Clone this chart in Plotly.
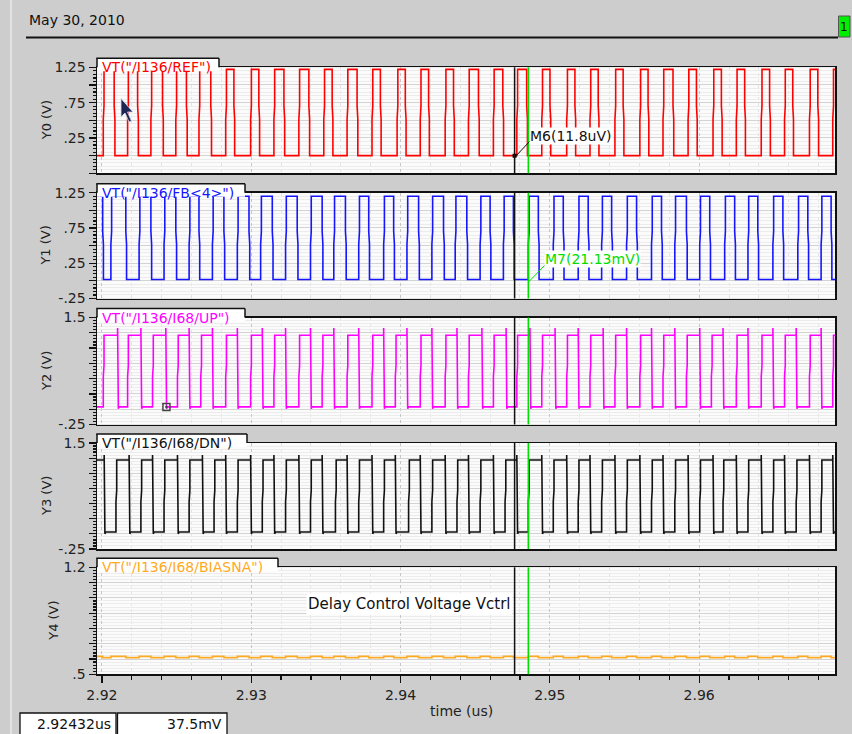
import plotly.graph_objects as go

W, H = 852, 734

# ---------------- data ----------------
X_RANGE = [2.91967, 2.96910]          # time (us)
X_TICK0, X_DTICK, X_MINOR = 2.92, 0.01, 0.002

signal_names = ['VT("/I136/REF")', 'VT("/I136/FB<4>")', 'VT("/I136/I68/UP")',
                'VT("/I136/I68/DN")', 'VT("/I136/I68/BIASNA")']
axis_titles = ["Y0 (V)", "Y1 (V)", "Y2 (V)", "Y3 (V)", "Y4 (V)"]
colors = ["#ff0000", "#1515ff", "#ff00ff", "#111111", "#ffaa22"]

y_ranges = [[-0.25, 1.25], [-0.25, 1.25], [-0.25, 1.5], [-0.25, 1.5], [0.5, 1.2]]
y_tickvals = [
    [-0.25, 0, 0.25, 0.5, 0.75, 1.0, 1.25],
    [-0.25, 0, 0.25, 0.5, 0.75, 1.0, 1.25],
    [-0.25, 0, 0.25, 0.5, 0.75, 1.0, 1.25, 1.5],
    [-0.25, 0, 0.25, 0.5, 0.75, 1.0, 1.25, 1.5],
    [0.5, 0.6, 0.7, 0.8, 0.9, 1.0, 1.1, 1.2],
]
y_ticktext = [
    ["", "", ".25", "", ".75", "", "1.25"],
    ["-.25", "", ".25", "", ".75", "", "1.25"],
    ["-.25", "", "", "", "", "", "", "1.5"],
    ["-.25", "", "", "", "", "", "", "1.5"],
    [".5", "", "", "", "", "", "", "1.2"],
]
y_minor = [0.05, 0.05, 0.05, 0.05, 0.02]

# REF clock edges (us)
ref_rise = [2.92009, 2.92172, 2.92328, 2.92495, 2.92650, 2.92829, 2.92996, 2.93152, 2.93319, 2.93486,
            2.93642, 2.93809, 2.93977, 2.94132, 2.94299, 2.94455, 2.94622, 2.94779, 2.94946, 2.95113,
            2.95269, 2.95436, 2.95603, 2.95758, 2.95926, 2.96093, 2.96249, 2.96416, 2.96572, 2.96739, 2.96895]
ref_fall = [2.92082, 2.92239, 2.92406, 2.92566, 2.92729, 2.92884, 2.93051, 2.93219, 2.93386, 2.93542,
            2.93709, 2.93865, 2.94032, 2.94188, 2.94355, 2.94522, 2.94685, 2.94845, 2.95001, 2.95168,
            2.95324, 2.95491, 2.95658, 2.95825, 2.95982, 2.96149, 2.96305, 2.96472, 2.96627, 2.96795]
ref_levels = (0.0, 1.22)

# FB<4> edges (us)
fb_fall = [2.92005, 2.92160, 2.92328, 2.92495, 2.92650, 2.92817, 2.92985, 2.93141, 2.93308, 2.93475,
           2.93631, 2.93787, 2.93954, 2.94121, 2.94288, 2.94444, 2.94600, 2.94756, 2.94923, 2.95090,
           2.95257, 2.95414, 2.95581, 2.95748, 2.95915, 2.96071, 2.96238, 2.96393, 2.96561, 2.96728, 2.96884]
fb_rise = [2.92060, 2.92249, 2.92416, 2.92584, 2.92740, 2.92907, 2.93063, 2.93230, 2.93397, 2.93553,
           2.93720, 2.93887, 2.94043, 2.94210, 2.94366, 2.94533, 2.94689, 2.94856, 2.95023, 2.95190,
           2.95347, 2.95514, 2.95681, 2.95837, 2.96004, 2.96171, 2.96327, 2.96494, 2.96661, 2.96817]
fb_levels = (0.02, 1.20)

# UP edges (us)
up_rise = [2.92009, 2.92172, 2.92339, 2.92506, 2.92662, 2.92829, 2.92996, 2.93152, 2.93319, 2.93475,
           2.93642, 2.93809, 2.93965, 2.94132, 2.94299, 2.94455, 2.94622, 2.94779, 2.94946, 2.95113,
           2.95269, 2.95436, 2.95603, 2.95758, 2.95915, 2.96082, 2.96249, 2.96416, 2.96572, 2.96739, 2.96895]
up_fall = [2.92105, 2.92261, 2.92428, 2.92584, 2.92740, 2.92907, 2.93074, 2.93230, 2.93397, 2.93553,
           2.93720, 2.93887, 2.94043, 2.94210, 2.94378, 2.94545, 2.94707, 2.94867, 2.95035, 2.95190,
           2.95357, 2.95514, 2.95681, 2.95837, 2.96004, 2.96160, 2.96327, 2.96494, 2.96650, 2.96817]
up_levels = (0.0375, 1.21)
up_overshoot = 0.12

# DN edges (us)
dn_fall = [2.92015, 2.92182, 2.92339, 2.92506, 2.92673, 2.92829, 2.92996, 2.93152, 2.93319, 2.93475,
           2.93642, 2.93809, 2.93965, 2.94132, 2.94299, 2.94455, 2.94622, 2.94779, 2.94946, 2.95113,
           2.95269, 2.95436, 2.95603, 2.95758, 2.95926, 2.96093, 2.96249, 2.96416, 2.96572, 2.96739, 2.96895]
dn_rise = [2.92094, 2.92261, 2.92416, 2.92584, 2.92751, 2.92907, 2.93074, 2.93230, 2.93397, 2.93564,
           2.93720, 2.93887, 2.94054, 2.94210, 2.94378, 2.94533, 2.94700, 2.94856, 2.95023, 2.95190,
           2.95347, 2.95514, 2.95681, 2.95837, 2.96004, 2.96160, 2.96327, 2.96494, 2.96650, 2.96817]
dn_levels = (0.03, 1.22)
dn_overshoot = 0.08

# BIASNA (Vctrl): flat with a small ripple while FB is high
vctrl_base, vctrl_ripple = 0.609, 0.617
vctrl_ripple_on = fb_rise
vctrl_ripple_off = fb_fall

cursor_a, cursor_b = 2.94764, 2.94856
m6_label, m7_label = "M6(11.8uV)", "M7(21.13mV)"
m6_value, m7_value = 0.0000118, 0.02113
readout_t, readout_v = 2.92432, 0.0375
readout_texts = ["2.92432us", "37.5mV"]
date_text = "May 30, 2010"
note_text = "Delay Control Voltage Vctrl"

# ---------------- helpers ----------------
KINK = 0.00005


def wave(rises, falls, lo, hi, start_high, over=0.0):
    ev = sorted([(t, 1) for t in rises] + [(t, 0) for t in falls])
    a = lo + 0.58 * (hi - lo)
    b = lo + 0.42 * (hi - lo)
    xs = [X_RANGE[0]]
    ys = [hi if start_high else lo]
    for t, k in ev:
        if k == 1:
            xs += [t, t, t + KINK, t + KINK]
            ys += [lo, b, a, hi]
        else:
            if over:
                xs += [t, t]
                ys += [hi, hi + over]
                xs += [t, t, t + KINK, t + KINK, t + 2 * KINK]
                ys += [a, a, b, lo - 0.03, lo]
            else:
                xs += [t, t, t + KINK, t + KINK]
                ys += [hi, a, b, lo]
    xs.append(X_RANGE[1])
    ys.append(ys[-1])
    return xs, ys


def steps(on, off, base, top):
    ev = sorted([(t, 1) for t in on] + [(t, 0) for t in off])
    xs, ys = [X_RANGE[0]], [top]
    for t, k in ev:
        xs += [t, t]
        ys += ([base, top] if k == 1 else [top, base])
    xs.append(X_RANGE[1])
    ys.append(ys[-1])
    return xs, ys


def px(x):
    return x / W


def py(y):
    return 1 - y / H


FONT = "DejaVu Sans"
panels_px = [(67.3, 173.3), (192.7, 298.5), (317.5, 424.5), (443.0, 549.0), (567.3, 674.3)]
tab_right = [219, 245, 245, 247, 278]
XL, XR = 97, 835

waves = [
    wave(ref_rise, ref_fall, *ref_levels, start_high=False),
    wave(fb_rise, fb_fall, *fb_levels, start_high=True),
    wave(up_rise, up_fall, *up_levels, start_high=False, over=up_overshoot),
    wave(dn_rise, dn_fall, *dn_levels, start_high=True, over=dn_overshoot),
    steps(vctrl_ripple_on, vctrl_ripple_off, vctrl_base, vctrl_ripple),
]

fig = go.Figure()
for i, (xs, ys) in enumerate(waves):
    sfx = "" if i == 0 else str(i + 1)
    fig.add_trace(go.Scatter(x=xs, y=ys, mode="lines", line=dict(color=colors[i], width=1.6),
                             xaxis="x" + sfx, yaxis="y" + sfx, hoverinfo="skip", showlegend=False))

# marker dots
fig.add_trace(go.Scatter(x=[cursor_a], y=[m6_value], mode="markers",
                         marker=dict(symbol="square", size=4, color="#000"),
                         xaxis="x", yaxis="y", showlegend=False, hoverinfo="skip"))
fig.add_trace(go.Scatter(x=[readout_t], y=[readout_v], mode="markers",
                         marker=dict(symbol="square-open-dot", size=7, color="#444",
                                     line=dict(width=1.5, color="#444")),
                         xaxis="x3", yaxis="y3", showlegend=False, hoverinfo="skip"))

layout = dict(
    template="none",
    width=W, height=H, autosize=False,
    margin=dict(l=0, r=0, t=0, b=0, pad=0, autoexpand=False),
    paper_bgcolor="#cdcdcd",
    plot_bgcolor="#fbfbfb",
    showlegend=False,
    font=dict(family=FONT, size=14, color="#222"),
)

shapes = []
annotations = []

for i in range(5):
    sfx = "" if i == 0 else str(i + 1)
    top, bot = panels_px[i]
    bottom_panel = i == 4
    layout["xaxis" + sfx] = dict(
        domain=[px(XL), px(XR)], range=X_RANGE, anchor="y" + sfx, automargin=False,
        matches=None if i == 0 else "x",
        showline=True, mirror=True, linecolor="#111", linewidth=1.5,
        showgrid=True, gridcolor="#c6c6c6", griddash="dot", gridwidth=1,
        zeroline=False,
        tickmode="linear", tick0=X_TICK0, dtick=X_DTICK, tickformat=".2f",
        ticks="outside" if bottom_panel else "", ticklen=7, tickwidth=1.2, tickcolor="#111",
        showticklabels=bottom_panel,
        tickfont=dict(family=FONT, size=14, color="#222"),
        minor=dict(tickmode="linear", tick0=X_TICK0, dtick=X_MINOR, showgrid=True,
                   gridcolor="#e3e3e3", gridwidth=1,
                   ticks="outside" if bottom_panel else "", ticklen=4, tickcolor="#111"),
    )
    layout["yaxis" + sfx] = dict(
        domain=[py(bot), py(top)], range=y_ranges[i], anchor="x" + sfx, automargin=False,
        showline=True, mirror=True, linecolor="#111", linewidth=1.5,
        showgrid=True, gridcolor="#d3d3d3", gridwidth=1, zeroline=False,
        tickmode="array", tickvals=y_tickvals[i], ticktext=y_ticktext[i],
        ticks="outside", ticklen=7, tickwidth=1.2, tickcolor="#111",
        tickfont=dict(family=FONT, size=14, color="#222"),
        minor=dict(tickmode="linear", tick0=y_ranges[i][0], dtick=y_minor[i], showgrid=True,
                   gridcolor="#ececec", gridwidth=1, ticks="outside", ticklen=3, tickcolor="#111"),
    )

    # cursor lines
    shapes.append(dict(type="line", xref="x" + sfx, yref="y" + sfx + " domain",
                       x0=cursor_a, x1=cursor_a, y0=0, y1=1,
                       line=dict(color="#111", width=1.5), layer="above"))
    shapes.append(dict(type="line", xref="x" + sfx, yref="y" + sfx + " domain",
                       x0=cursor_b, x1=cursor_b, y0=0, y1=1,
                       line=dict(color="#00e000", width=1.6), layer="above"))

    # label tab
    tt = top - 9
    shapes.append(dict(type="rect", xref="paper", yref="paper",
                       x0=px(XL), x1=px(tab_right[i]), y0=py(top + 4), y1=py(tt),
                       fillcolor="white", line=dict(width=0), layer="above"))
    shapes.append(dict(type="line", xref="paper", yref="paper",
                       x0=px(XL - 0.7), x1=px(tab_right[i]), y0=py(tt), y1=py(tt),
                       line=dict(color="#111", width=1.5), layer="above"))
    shapes.append(dict(type="line", xref="paper", yref="paper",
                       x0=px(tab_right[i]), x1=px(tab_right[i]), y0=py(tt), y1=py(top),
                       line=dict(color="#111", width=1.5), layer="above"))
    shapes.append(dict(type="line", xref="paper", yref="paper",
                       x0=px(XL), x1=px(XL), y0=py(tt), y1=py(top),
                       line=dict(color="#111", width=1.5), layer="above"))
    annotations.append(dict(text=signal_names[i], xref="paper", yref="paper",
                            x=px(100), y=py(tt - 1), xanchor="left", yanchor="top",
                            showarrow=False, font=dict(family=FONT, size=14, color=colors[i])))

    # y titles
    tx = 54 if i == 4 else 46
    annotations.append(dict(text=axis_titles[i], xref="paper", yref="paper",
                            x=px(tx), y=py((top + bot) / 2), textangle=-90,
                            xanchor="center", yanchor="middle", showarrow=False,
                            font=dict(family=FONT, size=13, color="#222")))

# header
annotations.append(dict(text=date_text, xref="paper", yref="paper", x=px(27), y=py(20),
                        xanchor="left", yanchor="middle", showarrow=False,
                        font=dict(family=FONT, size=14, color="#111")))
shapes.append(dict(type="line", xref="paper", yref="paper", x0=px(26), x1=px(838),
                   y0=py(37.5), y1=py(37.5), line=dict(color="#111", width=2)))
shapes.append(dict(type="rect", xref="paper", yref="paper", x0=px(838.5), x1=px(850),
                   y0=py(37), y1=py(16), fillcolor="#00ee00", line=dict(color="#555", width=1)))
annotations.append(dict(text="1", xref="paper", yref="paper", x=px(844.3), y=py(27),
                        xanchor="center", yanchor="middle", showarrow=False,
                        font=dict(family=FONT, size=12, color="#111")))
# left frame stripe
shapes.append(dict(type="line", xref="paper", yref="paper", x0=px(11), x1=px(11),
                   y0=0, y1=1, line=dict(color="#e2e2e2", width=2)))

# x title
annotations.append(dict(text="time (us)", xref="paper", yref="paper", x=px(461), y=py(711),
                        xanchor="center", yanchor="middle", showarrow=False,
                        font=dict(family=FONT, size=14, color="#222")))

# marker labels
shapes.append(dict(type="line", xref="paper", yref="paper", x0=px(515), y0=py(157),
                   x1=px(530), y1=py(141), line=dict(color="#111", width=1), layer="above"))
annotations.append(dict(text=m6_label, xref="paper", yref="paper", x=px(529), y=py(136),
                        xanchor="left", yanchor="middle", showarrow=False, bgcolor="white",
                        borderpad=0, font=dict(family=FONT, size=14, color="#111")))
shapes.append(dict(type="line", xref="paper", yref="paper", x0=px(528.5), y0=py(282),
                   x1=px(545), y1=py(265), line=dict(color="#00e000", width=1), layer="above"))
annotations.append(dict(text=m7_label, xref="paper", yref="paper", x=px(544), y=py(259),
                        xanchor="left", yanchor="middle", showarrow=False, bgcolor="white",
                        borderpad=0, font=dict(family=FONT, size=14, color="#00dd00")))

# note in Vctrl panel
annotations.append(dict(text=note_text, xref="paper", yref="paper", x=px(513), y=py(604),
                        xanchor="right", yanchor="middle", showarrow=False, bgcolor="white",
                        borderpad=1, font=dict(family=FONT, size=15, color="#111")))

# readout boxes
for (x0, x1), txt in zip([(20, 116), (117.5, 227)], readout_texts):
    shapes.append(dict(type="rect", xref="paper", yref="paper", x0=px(x0), x1=px(x1),
                       y0=py(736), y1=py(713), fillcolor="white", line=dict(color="#111", width=1.3)))
    annotations.append(dict(text=txt, xref="paper", yref="paper", x=px(x1 - 3), y=py(724),
                            xanchor="right", yanchor="middle", showarrow=False,
                            font=dict(family=FONT, size=14, color="#111")))

# mouse pointer
pts = [(121, 98.5), (121, 117), (125, 113), (129, 122), (131.5, 121), (127.5, 112), (133, 112)]
path = "M " + " L ".join(f"{px(x):.5f},{py(y):.5f}" for x, y in pts) + " Z"
shapes.append(dict(type="path", xref="paper", yref="paper", path=path,
                   fillcolor="#1d2654", line=dict(color="#dde", width=0.8), layer="above"))

layout["shapes"] = shapes
layout["annotations"] = annotations
fig.update_layout(**layout)

page_fix = ("document.documentElement.style.margin='0';document.body.style.margin='0';"
            "document.body.style.padding='0';document.body.style.background='#cdcdcd';"
            "document.body.style.overflow='hidden';")
fig.write_html("out.html", post_script=page_fix,
               config={"displayModeBar": False, "staticPlot": True})
